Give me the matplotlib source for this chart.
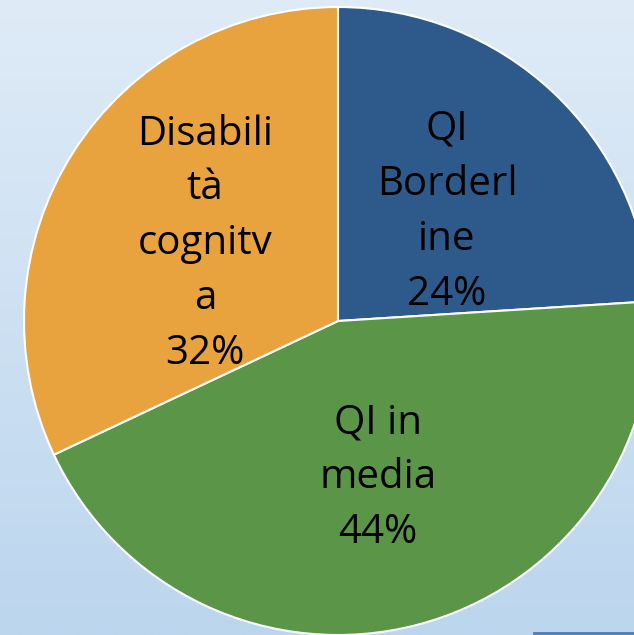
import matplotlib
matplotlib.use("Agg")
from matplotlib import pyplot as plt
from matplotlib.colors import LinearSegmentedColormap
import numpy as np

labels = ["QI\nBorderl\nine", "QI in\nmedia", "Disabili\ntà\ncognitv\na"]
values = [24, 44, 32]
colors = ["#2E5A8B", "#5B9648", "#E8A23E"]
# label anchor points in pixel coords (x, y from top)
label_pos = [(447, 212), (378, 478), (205, 244)]

W, H = 634, 635
fig = plt.figure(figsize=(W / 100, H / 100), dpi=100)
ax = fig.add_axes([0, 0, 1, 1])

# background gradient
grad = np.linspace(0, 1, 256).reshape(-1, 1)
cmap = LinearSegmentedColormap.from_list("bg", ["#DFEBF7", "#BCD6EE"])
ax.imshow(grad, extent=[0, W, 0, H], aspect="auto", cmap=cmap, zorder=0)

ax.pie(values, colors=colors, startangle=90, counterclock=False,
       center=(338, H - 321), radius=314,
       wedgeprops=dict(edgecolor="white", linewidth=1.5, zorder=1),
       frame=True)
ax.set_xlim(0, W)
ax.set_ylim(0, H)
ax.set_aspect("auto")
ax.axis("off")

for lab, v, (x, y) in zip(labels, values, label_pos):
    ax.text(x, H - y, f"{lab}\n{v}%", ha="center", va="center",
            fontsize=29, family="Open Sans", linespacing=1.47, color="black",
            zorder=3)

# thin line at bottom right
ax.plot([534, W], [2, 2], color="#4A7EBB", linewidth=2, zorder=2)

fig.savefig("out.png", dpi=100)
